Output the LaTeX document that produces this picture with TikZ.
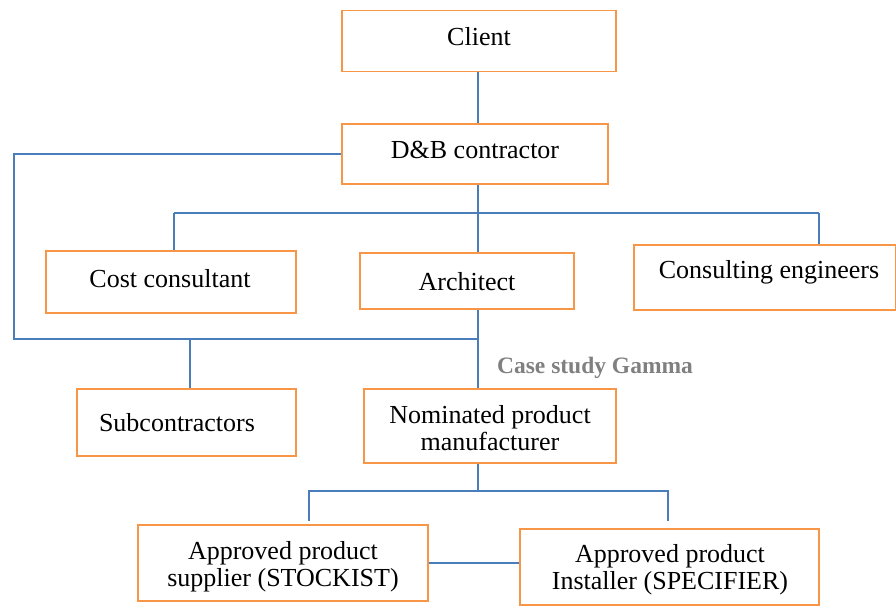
\documentclass[tikz,border=0pt]{standalone}
\usepackage{fontspec}
\setmainfont{Liberation Serif}
\definecolor{boxor}{HTML}{F79646}
\definecolor{linebl}{HTML}{4A7EBB}
\definecolor{casegray}{HTML}{808080}
\begin{document}
\begin{tikzpicture}[x=1pt,y=-1pt,
  box/.style={draw=boxor,line width=1.8pt,inner sep=0pt,anchor=center},
  txt/.style={font=\fontsize{26}{27}\selectfont,inner sep=0pt,align=center,anchor=center},
  link/.style={draw=linebl,line width=1.5pt}]
\useasboundingbox (0,0) rectangle (896,606);
% boxes
\node[box,minimum width=274pt,minimum height=61pt] (client) at (479,41) {};
\node[box,minimum width=266pt,minimum height=60pt] (db) at (475,154) {};
\node[box,minimum width=250pt,minimum height=62pt] (cost) at (171,282) {};
\node[box,minimum width=214pt,minimum height=56pt] (arch) at (467,281) {};
\node[box,minimum width=262pt,minimum height=65pt] (cons) at (765,277.5) {};
\node[box,minimum width=219pt,minimum height=67pt] (sub) at (186.5,422.5) {};
\node[box,minimum width=252pt,minimum height=74pt] (nom) at (490,426) {};
\node[box,minimum width=290pt,minimum height=76pt] (sup) at (283,563) {};
\node[box,minimum width=299pt,minimum height=76pt] (inst) at (669.5,567) {};
% texts
\node[txt] (tclient) at (479,37) {Client};
\node[txt] (tdb) at (475,150) {D\&B contractor};
\node[txt] (tcost) at (170,279) {Cost consultant};
\node[txt] (tarch) at (467,282) {Architect};
\node[txt] (tcons) at (769,272) {Consulting engineers};
\node[txt] (tsub) at (177,423) {Subcontractors};
\node[txt] (tnom) at (490,428.5) {Nominated product\\manufacturer};
\node[txt] (tsup) at (283,567) {Approved product\\supplier (STOCKIST)};
\node[txt] (tinst) at (670,570) {Approved product\\Installer (SPECIFIER)};
\node[txt,font=\fontsize{23.5}{25}\selectfont\bfseries,text=casegray] (tcase) at (595,368) {Case study Gamma};
% helper coordinates
\coordinate (xm) at (478,0);
\coordinate (b1l) at (174,213);
\coordinate (b1m) at (478,213);
\coordinate (b1r) at (819,213);
\coordinate (lb) at (14,339);
\coordinate (b2m) at (478,339);
\coordinate (xs) at (190,0);
\coordinate (b3l) at (309,491);
\coordinate (b3m) at (478,491);
\coordinate (b3r) at (668,491);
\coordinate (d3l) at (309,521);
\coordinate (d3r) at (668,521);
% connectors
\draw[link] (client.south -| xm) -- (db.north -| xm);
\draw[link] (db.south -| xm) -- (arch.north -| xm);
\draw[link] (b1l) -- (b1r);
\draw[link] (b1l) -- (cost.north -| b1l);
\draw[link] (b1r) -- (cons.north -| b1r);
\draw[link] (db.west) -| (lb) -- (b2m);
\draw[link] (arch.south -| xm) -- (nom.north -| xm);
\draw[link] (b2m -| xs) -- (sub.north -| xs);
\draw[link] (nom.south -| xm) -- (b3m);
\draw[link] (d3l) -- (b3l) -- (b3r) -- (d3r);
\draw[link] (sup.east) -- (sup.east -| inst.west);
\end{tikzpicture}
\end{document}
